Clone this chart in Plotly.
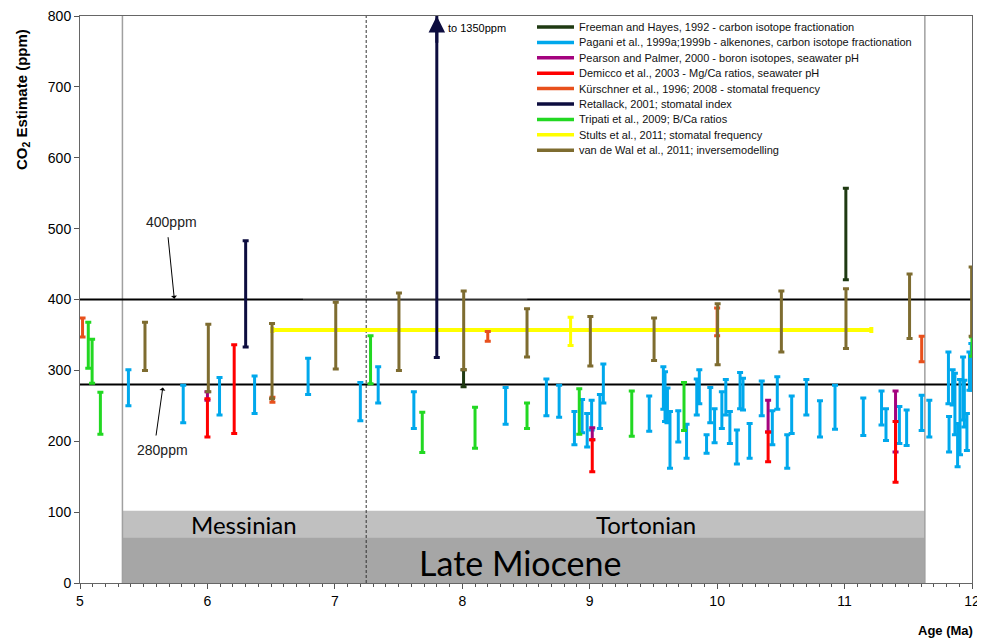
import plotly.graph_objects as go

# ---------------- data (Age in Ma, CO2 low / high in ppm) ----------------
freeman_x = [8.01, 11.01]
freeman_lo = [277, 428]
freeman_hi = [301, 557]

pagani_x = [5.38, 5.81, 6.095, 6.37, 6.79, 7.20, 7.34, 7.62, 8.34, 8.66, 8.76,
            8.88, 8.94, 8.98, 9.015, 9.08, 9.107, 9.467, 9.578, 9.591, 9.61, 9.63,
            9.695, 9.76, 9.84, 9.86, 9.917, 9.946, 9.98, 10.037, 10.068, 10.10,
            10.155, 10.18, 10.203, 10.255, 10.35, 10.433, 10.472, 10.55, 10.585,
            10.70, 10.807, 10.925, 11.147, 11.29, 11.325, 11.43, 11.487, 11.605,
            11.665, 11.815, 11.82, 11.848, 11.866, 11.887, 11.906, 11.93, 11.94,
            11.96, 11.98, 11.995]
pagani_lo = [250, 226, 237, 239, 266, 229, 254, 218, 224, 236, 234,
             195, 212, 192, 216, 218, 254, 214, 245, 228, 226, 162,
             199, 176, 237, 253, 183, 226, 198, 218, 237, 197,
             168, 246, 244, 176, 236, 195, 245, 162, 211,
             237, 206, 217, 208, 223, 201, 197, 194, 215,
             206, 253, 185, 251, 209, 164, 181, 230, 220,
             187, 272, 272]
pagani_hi = [301, 279, 290, 292, 317, 283, 305, 270, 276, 288, 279,
             242, 259, 239, 258, 266, 309, 264, 305, 298, 275, 242,
             243, 224, 288, 301, 209, 276, 246, 270, 287, 242,
             216, 297, 289, 225, 285, 243, 291, 209, 264,
             287, 257, 279, 261, 271, 246, 249, 244, 265,
             258, 326, 235, 301, 296, 225, 287, 319, 286,
             239, 326, 338]

pearson_x = [6.0, 9.02, 10.40, 11.40]
pearson_lo = [258, 202, 213, 185]
pearson_hi = [270, 219, 258, 271]

demicco_x = [6.0, 6.21, 9.02, 10.40, 11.40]
demicco_lo = [206, 211, 157, 171, 142]
demicco_hi = [260, 336, 202, 213, 228]

kurschner_x = [5.02, 6.51, 8.20, 10.0, 11.605]
kurschner_lo = [347, 255, 341, 349, 312]
kurschner_hi = [374, 262, 355, 388, 348]

retallack_x = [6.30, 7.80]
retallack_lo = [333, 318]
retallack_hi = [483, 1350]

tripati_x = [5.065, 5.095, 5.16, 7.28, 7.686, 8.10, 8.508, 8.918, 9.33, 9.74, 12.0]
tripati_lo = [303, 282, 210, 281, 184, 190, 218, 210, 207, 215, 320]
tripati_hi = [368, 344, 269, 349, 241, 248, 254, 274, 271, 283, 347]

stults_x = [8.85]
stults_lo = [335]
stults_hi = [375]
stults_span_x = [6.51, 11.21]
stults_span_y = 357

vandewal_x = [5.51, 6.007, 6.507, 7.007, 7.503, 8.011, 8.508, 9.005, 9.505,
              10.004, 10.504, 11.011, 11.51, 11.997]
vandewal_lo = [300, 270, 260, 302, 300, 301, 319, 306, 314, 308, 326, 331, 345, 348]
vandewal_hi = [368, 365, 366, 396, 409, 412, 387, 376, 374, 394, 412, 415, 436, 446]

ref_levels = [400, 280]
ref_labels = ["400ppm", "280ppm"]

messinian_base = 7.246
miocene_top = 5.333
tortonian_base = 11.63
stage_names = ["Messinian", "Tortonian"]
epoch_name = "Late Miocene"

series = [
    ("Freeman and Hayes, 1992 - carbon isotope fractionation", "#1F3A12", freeman_x, freeman_lo, freeman_hi),
    ("Pagani et al., 1999a;1999b - alkenones, carbon isotope fractionation", "#00A8EC", pagani_x, pagani_lo, pagani_hi),
    ("Pearson and Palmer, 2000 - boron isotopes, seawater pH", "#A4037E", pearson_x, pearson_lo, pearson_hi),
    ("Demicco et al., 2003 - Mg/Ca ratios, seawater pH", "#FF0000", demicco_x, demicco_lo, demicco_hi),
    ("Kürschner et al., 1996; 2008 - stomatal frequency", "#E8501C", kurschner_x, kurschner_lo, kurschner_hi),
    ("Retallack, 2001; stomatal index", "#0D0D3F", retallack_x, retallack_lo, retallack_hi),
    ("Tripati et al., 2009; B/Ca ratios", "#22D822", tripati_x, tripati_lo, tripati_hi),
    ("Stults et al., 2011; stomatal frequency", "#FFFF00", stults_x, stults_lo, stults_hi),
    ("van de Wal et al., 2011; inversemodelling", "#7E6C30", vandewal_x, vandewal_lo, vandewal_hi),
]
colors = {name: c for name, c, *_ in series}

# figure geometry (the page body adds an 8px offset)
OFF = 8
W, H = 985, 642
ML, MR, MT, MB = 72, 21, 8, 67
PW, PH = W - ML - MR, H - MT - MB
PLOT_LEFT, PLOT_BOTTOM = OFF + ML, OFF + H - MB


def px_x(px):
    return (px - PLOT_LEFT) / PW


def px_y(py):
    return (PLOT_BOTTOM - py) / PH


fig = go.Figure()

# stage bands
fig.add_shape(type="rect", xref="x", yref="y", x0=miocene_top, x1=tortonian_base,
              y0=0, y1=102, fillcolor="#C0C0C0", line_width=0, layer="below")
fig.add_shape(type="rect", xref="x", yref="y", x0=miocene_top, x1=tortonian_base,
              y0=0, y1=64, fillcolor="#A6A6A6", line_width=0, layer="below")

# boundary lines
for bx in [miocene_top, tortonian_base]:
    fig.add_trace(go.Scatter(x=[bx, bx], y=[0, 800], mode="lines",
                             line=dict(color="#A0A0A0", width=1.5),
                             showlegend=False, hoverinfo="skip"))
fig.add_trace(go.Scatter(x=[messinian_base, messinian_base], y=[0, 800], mode="lines",
                         line=dict(color="#333333", width=1, dash="3px,2px"),
                         showlegend=False, hoverinfo="skip"))

# reference levels
for lv in ref_levels:
    fig.add_trace(go.Scatter(x=[5, 12], y=[lv, lv], mode="lines",
                             line=dict(color="black", width=2),
                             showlegend=False, hoverinfo="skip"))
fig.add_trace(go.Scatter(x=[6.75, 8.51], y=[401, 401], mode="lines",
                         line=dict(color="#A8A8A8", width=1),
                         showlegend=False, hoverinfo="skip"))

# Stults horizontal span
fig.add_trace(go.Scatter(
    x=[(stults_span_x[0] + stults_span_x[1]) / 2], y=[stults_span_y], mode="markers",
    marker=dict(size=1, color="rgba(0,0,0,0)"),
    error_x=dict(type="constant", value=(stults_span_x[1] - stults_span_x[0]) / 2,
                 color=colors["Stults et al., 2011; stomatal frequency"], thickness=4, width=3),
    showlegend=False, hoverinfo="skip"))

# error-bar series
for name, col, xs, lo, hi in series:
    mids = [(a + b) / 2 for a, b in zip(lo, hi)]
    half = [(b - a) / 2 for a, b in zip(lo, hi)]
    fig.add_trace(go.Scatter(
        x=xs, y=mids, mode="markers", name=name,
        marker=dict(size=1, color="rgba(0,0,0,0)"),
        error_y=dict(type="data", array=half, arrayminus=half, symmetric=False,
                     color=col, thickness=3, width=3),
        showlegend=False, hoverinfo="skip"))

# compact legend (line sample + label), as in the reference
leg_x0, leg_x1, leg_text_x = 537, 574, 577
leg_y0, leg_dy = 27, 15.4
for i, (name, col, *_) in enumerate(series):
    yy = px_y(leg_y0 + i * leg_dy)
    fig.add_shape(type="line", xref="paper", yref="paper",
                  x0=px_x(leg_x0), x1=px_x(leg_x1), y0=yy, y1=yy,
                  line=dict(color=col, width=3.5))
    fig.add_annotation(x=px_x(leg_text_x), y=yy, xref="paper", yref="paper",
                       text=name, showarrow=False, xanchor="left", yanchor="middle",
                       font=dict(family="Liberation Sans, Arial", size=11, color="#111"))

# Retallack arrow at the top
fig.add_annotation(x=retallack_x[1], y=800, ax=retallack_x[1], ay=760,
                   xref="x", yref="y", axref="x", ayref="y", text="",
                   showarrow=True, arrowhead=2, arrowsize=1.1, arrowwidth=3,
                   arrowcolor=colors["Retallack, 2001; stomatal index"])
fig.add_annotation(x=retallack_x[1] + 0.075, y=783, xref="x", yref="y",
                   text="to 1350ppm", showarrow=False, xanchor="left",
                   font=dict(family="Liberation Sans, Arial", size=11, color="black"))

# ref labels with arrows
fig.add_annotation(x=5.74, y=401, ax=5.69, ay=490, xref="x", yref="y", axref="x", ayref="y",
                   text="", showarrow=True, arrowhead=1, arrowsize=1, arrowwidth=1, arrowcolor="black")
fig.add_annotation(x=5.72, y=509, xref="x", yref="y", text=ref_labels[0], showarrow=False,
                   font=dict(family="Liberation Sans, Arial", size=14, color="#222"))
fig.add_annotation(x=5.65, y=276, ax=5.595, ay=206, xref="x", yref="y", axref="x", ayref="y",
                   text="", showarrow=True, arrowhead=1, arrowsize=1, arrowwidth=1, arrowcolor="black")
fig.add_annotation(x=5.65, y=188, xref="x", yref="y", text=ref_labels[1], showarrow=False,
                   font=dict(family="Liberation Sans, Arial", size=14, color="#222"))

# stage labels
fig.add_annotation(x=(miocene_top + messinian_base) / 2, y=82, xref="x", yref="y",
                   text=stage_names[0], showarrow=False,
                   font=dict(family="Lato, Open Sans", size=24, color="black"))
fig.add_annotation(x=(messinian_base + tortonian_base) / 2, y=82, xref="x", yref="y",
                   text=stage_names[1], showarrow=False,
                   font=dict(family="Lato, Open Sans", size=24, color="black"))
fig.add_annotation(x=8.45, y=29, xref="x", yref="y",
                   text=epoch_name, showarrow=False,
                   font=dict(family="Lato, Open Sans", size=34, color="black"))

# axis titles
fig.add_annotation(x=px_x(22), y=px_y(100), xref="paper", yref="paper", textangle=-90,
                   xanchor="center", yanchor="middle",
                   text="<b>CO<sub>2</sub> Estimate (ppm)</b>", showarrow=False,
                   font=dict(family="Liberation Sans, Arial", size=15, color="black"))
fig.add_annotation(x=px_x(975), y=px_y(630), xref="paper", yref="paper",
                   xanchor="right", yanchor="middle",
                   text="<b>Age (Ma)</b>", showarrow=False,
                   font=dict(family="Liberation Sans, Arial", size=13, color="black"))

fig.update_layout(
    width=W, height=H,
    margin=dict(l=ML, r=MR, t=MT, b=MB, autoexpand=False),
    plot_bgcolor="white", paper_bgcolor="white",
    font=dict(family="Liberation Sans, Arial", color="black"),
    showlegend=False,
    xaxis=dict(range=[5, 12], tickmode="linear", tick0=5, dtick=1, ticks="outside", ticklen=5,
               tickcolor="#555", showgrid=False, zeroline=False, automargin=False,
               ticklabeloverflow="allow",
               showline=True, linecolor="#666", linewidth=1, mirror=True,
               tickfont=dict(size=14, family="Liberation Sans, Arial"),
               minor=dict(dtick=0.1, tick0=5, ticks="outside", ticklen=3, tickcolor="#555", showgrid=False)),
    yaxis=dict(range=[0, 800], tickmode="linear", tick0=0, dtick=100, ticks="outside", ticklen=5,
               tickcolor="#555", showgrid=False, zeroline=False, automargin=False,
               ticklabeloverflow="allow",
               showline=True, linecolor="#666", linewidth=1, mirror=True,
               tickfont=dict(size=14, family="Liberation Sans, Arial")),
)

fig.write_html("out.html")
